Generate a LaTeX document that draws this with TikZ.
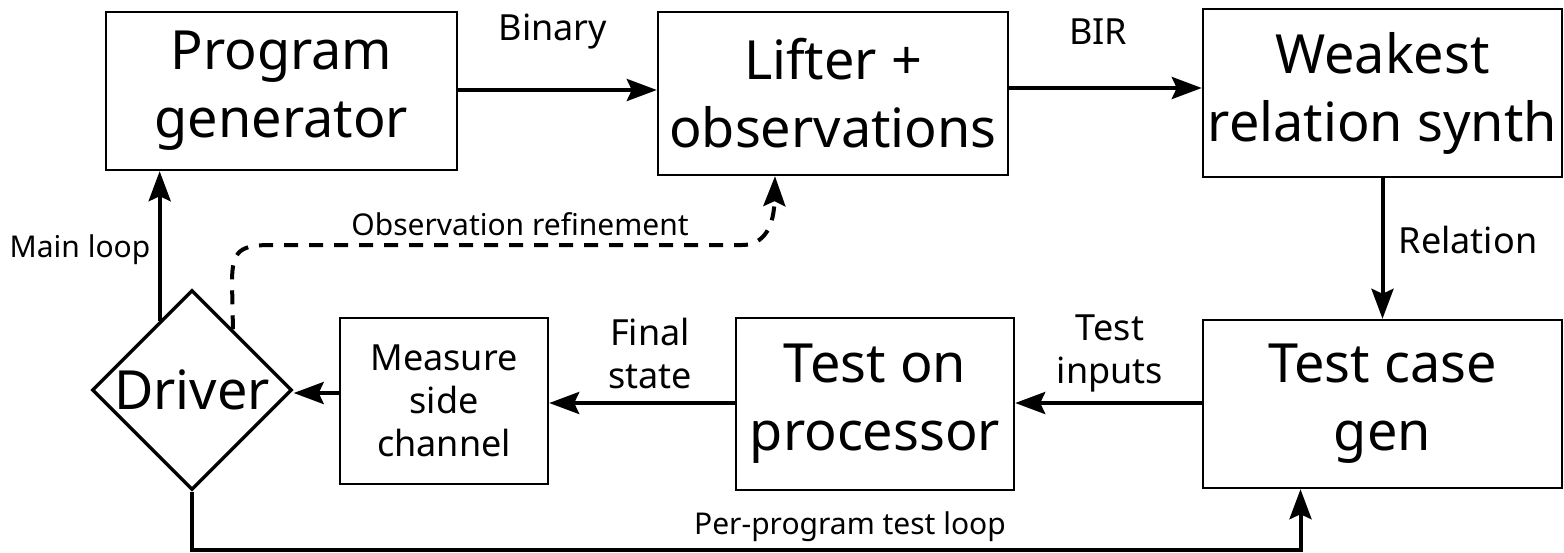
\documentclass[tikz,border=0pt]{standalone}
\usepackage{fontspec}
\setmainfont{Noto Sans}
\usetikzlibrary{shapes.geometric,arrows.meta}

\tikzset{
  boite/.style={draw, line width=1.2pt, align=center, inner sep=0pt},
  grand/.style={font=\fontsize{27}{34}\selectfont},
  moyen/.style={font=\fontsize{18}{21.5}\selectfont},
  petit/.style={font=\fontsize{15}{18}\selectfont},
  fleche/.style={line width=2pt, -{Stealth[length=15pt,width=11pt,inset=2.5pt]}},
}

\begin{document}
\begin{tikzpicture}[x=0.5pt,y=-0.5pt]
  \useasboundingbox (0,0) rectangle (1564,552);
  % Boîtes du haut
  \node[boite,grand,minimum width=175.5pt,minimum height=79pt] (gen) at (281.5,91) {Program\\generator};
  \node[boite,grand,minimum width=175pt,minimum height=81.5pt] (lift) at (833,93.5) {Lifter +\\observations};
  \node[boite,grand,minimum width=179.5pt,minimum height=84pt] (synth) at (1382.5,93) {Weakest\\relation synth};
  % Boîtes du bas
  \node[boite,grand,minimum width=179.5pt,minimum height=84pt] (tcg) at (1382.5,404) {Test case\\gen};
  \node[boite,grand,minimum width=139pt,minimum height=86pt] (proc) at (875,404) {Test on\\processor};
  \node[boite,moyen,minimum width=104pt,minimum height=83pt] (meas) at (444,401) {Measure\\side\\channel};
  % Le losange
  \node[boite,grand,diamond,line width=1.7pt,minimum width=100pt,minimum height=100pt] (drv) at (192,390) {Driver};

  % Flèches
  \draw[fleche] (gen.east |- 0,90) -- (lift.west |- 0,90);
  \draw[fleche] (lift.east |- 0,88) -- (synth.west |- 0,88);
  \draw[fleche] (synth.south) -- (tcg.north);
  \draw[fleche] (tcg.west |- 0,403) -- (proc.east |- 0,403);
  \draw[fleche] (proc.west |- 0,403) -- (meas.east |- 0,403);
  \draw[fleche] (meas.west |- 0,393) -- (drv.east |- 0,393);
  \draw[fleche] (drv.115) -- (drv.115 |- gen.south);
  \draw[fleche] (drv.south) -- ++(0,58) -| ([xshift=-41pt]tcg.south);
  \draw[fleche,dash pattern=on 7pt off 5.5pt] (drv.56) -- (232,282)
    .. controls (232,250) and (240,245) .. (272,245) -- (742,245)
    .. controls (765,245) and (774,225) .. ([xshift=-29pt]lift.south);

  % Etiquettes
  \node[moyen] (lbin) at (553,32) {Binary};
  \node[moyen] (lbir) at (1098,32) {BIR};
  \node[moyen] (lrel) at (1468,240) {Relation};
  \node[moyen,align=center] (lin) at (1110,353) {Test\\inputs};
  \node[moyen,align=center] (lfin) at (650,353) {Final\\state};
  \node[petit] (lmain) at (80,250) {Main loop};
  \node[petit] (lobs) at (520,224) {Observation refinement};
  \node[petit] (lper) at (850,527) {Per-program test loop};
\end{tikzpicture}
\end{document}
